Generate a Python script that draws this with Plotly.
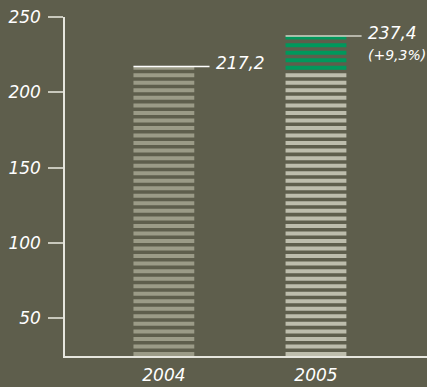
import plotly.graph_objects as go

# Chart data
years = ["2004", "2005"]
values = [217.2, 237.4]
value_labels = ["217,2", "237,4"]
change_label = "(+9,3%)"
y_ticks = [50, 100, 150, 200, 250]
y_min, y_max = 25, 250

# Styling
BG = "#5e5e4c"
STRIPE_COLORS = ["#9b9b87", "#bdbdac"]
GREEN = "#00985c"
TOP_LINE_COLORS = ["#ffffff", "#d4d4c8"]
AXIS_COLOR = "#e6e6de"
FONT = "DejaVu Sans"
STEP = 5.0        # one stripe every 5 units
FILL = 2.65       # filled part of each stripe
BAR_W = 0.4

fig = go.Figure()

for i, (year, v) in enumerate(zip(years, values)):
    base_light, h_light, base_green, h_green = [], [], [], []
    b = y_min
    while b < v:
        h = min(FILL, v - b)
        # in the later year, stripes above the previous year's level are highlighted
        if i > 0 and b > values[i - 1] - STEP:
            base_green.append(b)
            h_green.append(h)
        else:
            base_light.append(b)
            h_light.append(h)
        b += STEP
    fig.add_trace(go.Bar(x=[i] * len(h_light), y=h_light, base=base_light,
                         width=BAR_W, marker=dict(color=STRIPE_COLORS[i], line_width=0),
                         hoverinfo="skip", showlegend=False))
    if h_green:
        fig.add_trace(go.Bar(x=[i] * len(h_green), y=h_green, base=base_green,
                             width=BAR_W, marker=dict(color=GREEN, line_width=0),
                             hoverinfo="skip", showlegend=False))
    # top line running out to the value label
    fig.add_trace(go.Scatter(x=[i - BAR_W / 2, i + 0.30], y=[v, v], mode="lines",
                             line=dict(color=TOP_LINE_COLORS[i], width=1.5),
                             hoverinfo="skip", showlegend=False))
    fig.add_annotation(x=i + 0.33, y=v, text=value_labels[i], showarrow=False,
                       xanchor="left", yanchor="middle", yshift=3,
                       font=dict(family=FONT, size=17, color="#ffffff", style="italic"))

fig.add_annotation(x=1 + 0.33, y=values[1], text=change_label, showarrow=False,
                   xanchor="left", yanchor="middle", yshift=-19,
                   font=dict(family=FONT, size=14, color="#ffffff", style="italic"))

fig.update_layout(
    width=427, height=387,
    margin=dict(l=65, r=0, t=17, b=31),
    paper_bgcolor=BG, plot_bgcolor=BG,
    barmode="overlay",
    xaxis=dict(range=[-0.65, 1.73], tickvals=list(range(len(years))), ticktext=years,
               showgrid=False, zeroline=False, showline=True, linecolor=AXIS_COLOR,
               linewidth=1.5, ticks="", ticklabelstandoff=3,
               tickfont=dict(family=FONT, size=17, color="#ffffff", style="italic")),
    yaxis=dict(range=[y_min, y_max], tickvals=y_ticks, showgrid=False, zeroline=False,
               showline=True, linecolor=AXIS_COLOR, linewidth=1.5,
               ticks="outside", ticklen=15, tickcolor="#c8c8bc", tickwidth=1.5,
               ticklabelstandoff=4,
               tickfont=dict(family=FONT, size=17, color="#ffffff", style="italic")),
)

fig.write_html("out.html")
